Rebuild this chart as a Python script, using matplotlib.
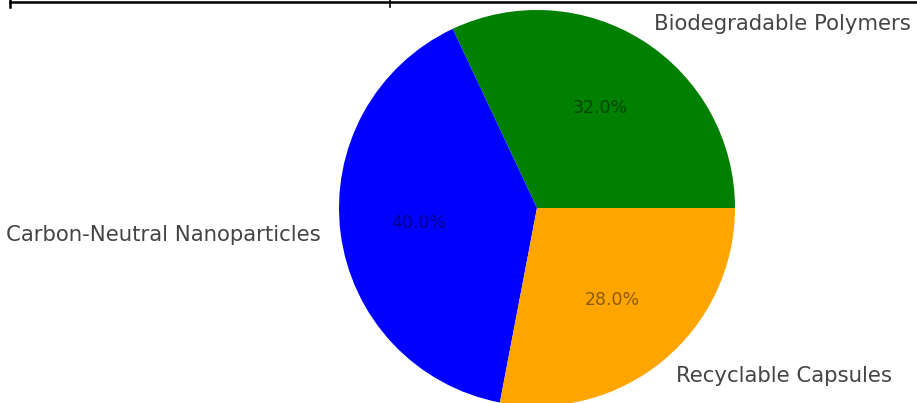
import matplotlib.pyplot as plt
from matplotlib.lines import Line2D

# pie data
labels = ['Biodegradable Polymers', 'Carbon-Neutral Nanoparticles', 'Recyclable Capsules']
shares = [32.0, 40.0, 28.0]
colors = ['green', 'blue', 'orange']

fig = plt.figure(figsize=(9.17, 4.03), dpi=100)
ax = fig.add_axes([339/917, -3/403, 396/917, 396/403])

wedges, texts, autotexts = ax.pie(shares, labels=labels, colors=colors,
                                  autopct='%1.1f%%', startangle=0,
                                  labeldistance=1.1, pctdistance=0.6)
for t in texts:
    t.set_fontsize(15.3)
    t.set_color('#444444')
for t in autotexts:
    t.set_fontsize(12.5)
    t.set_color('black')
    t.set_alpha(0.45)

ax.set_xlim(-1, 1)
ax.set_ylim(-1, 1)
ax.set_aspect('equal')
ax.axis('off')

# leftover border line at the top edge
fig.add_artist(Line2D([10/917, 1], [1 - 1.5/403, 1 - 1.5/403], color='black', lw=1.8))
fig.add_artist(Line2D([10/917, 10/917], [1, 1 - 7/403], color='black', lw=1.8))
fig.add_artist(Line2D([390/917, 390/917], [1, 1 - 7/403], color='black', lw=1.2))

fig.savefig('out.png', dpi=100)
